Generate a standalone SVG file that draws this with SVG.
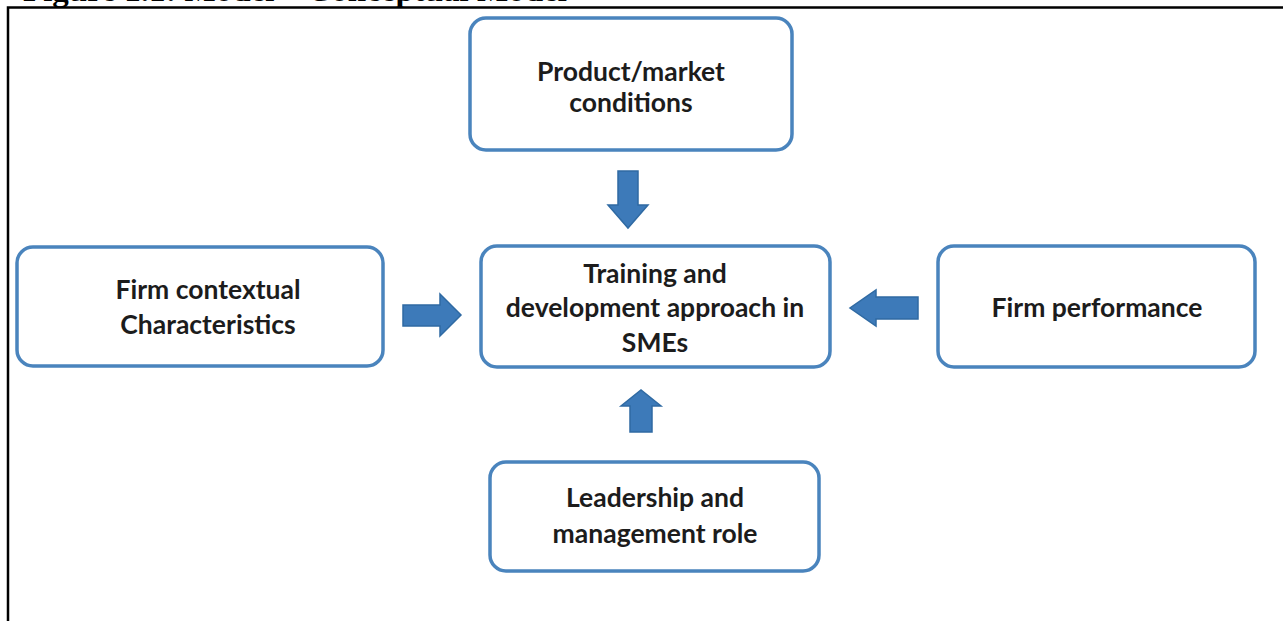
<svg xmlns="http://www.w3.org/2000/svg" width="1283" height="621" viewBox="0 0 1283 621">
<style>
.box{fill:#ffffff;stroke:#4a84bd;stroke-width:3.5}
.lbl{font-family:Lato,"Open Sans","Liberation Sans",sans-serif;font-weight:bold;font-size:26.5px;fill:#1c1c1c;text-anchor:middle}
.arr{fill:#3d7ab9;stroke:#2f6aa3;stroke-width:1.5}
.frame{stroke:#000;stroke-width:2.5;fill:none}
.hdr{font-family:"Liberation Serif",serif;font-weight:bold;font-size:33px;fill:#000}
</style>
<rect width="1283" height="621" fill="#ffffff"/>
<text class="hdr" x="23" y="1">Figure 1.1: Model – Conceptual Model</text>
<path class="frame" d="M8,621 V7.5 H1283"/>
<g id="node-product">
<rect class="box" x="470" y="18" width="322" height="132" rx="16"/>
<text class="lbl" x="631" y="81">Product/market</text>
<text class="lbl" x="631" y="112">conditions</text>
</g>
<g id="node-firm-context">
<rect class="box" x="17" y="247" width="366" height="119" rx="16"/>
<text class="lbl" x="208" y="299">Firm contextual</text>
<text class="lbl" x="208" y="334">Characteristics</text>
</g>
<g id="node-training">
<rect class="box" x="481" y="246" width="349" height="121" rx="16"/>
<text class="lbl" x="655" y="283">Training and</text>
<text class="lbl" x="655" y="317">development approach in</text>
<text class="lbl" x="655" y="352">SMEs</text>
</g>
<g id="node-performance">
<rect class="box" x="938" y="246" width="317" height="121" rx="16"/>
<text class="lbl" x="1097" y="317">Firm performance</text>
</g>
<g id="node-leadership">
<rect class="box" x="490" y="462" width="329" height="109" rx="16"/>
<text class="lbl" x="655" y="507">Leadership and</text>
<text class="lbl" x="655" y="543">management role</text>
</g>
<g id="connectors">
<path class="arr" d="M618,171 H638 V205 H648 L628,228 L608,205 H618 Z"/>
<path class="arr" d="M630,432 H652 V406 H661 L641,390 L621,406 H630 Z"/>
<path class="arr" d="M403,305 H440 V294 L461,315 L440,336 V326 H403 Z"/>
<path class="arr" d="M918,297 H876 V290 L850,308 L876,326 V319 H918 Z"/>
</g>
</svg>
